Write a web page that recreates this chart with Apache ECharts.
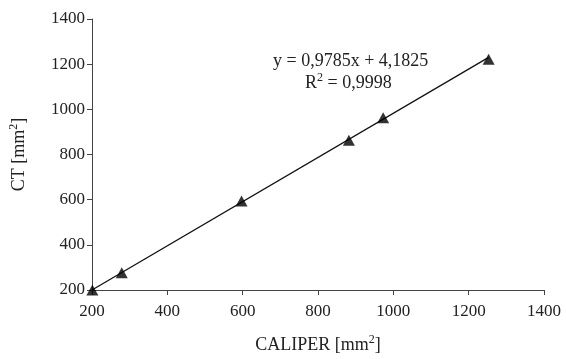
<!DOCTYPE html>
<html>
<head>
<meta charset="utf-8">
<script src="https://cdn.jsdelivr.net/npm/echarts@6/dist/echarts.min.js"></script>
<style>
  html, body { margin: 0; padding: 0; background: #fff; }
  #main { width: 566px; height: 359px; }
</style>
</head>
<body>
<div id="main"></div>
<script>
// measured points (CALIPER vs CT, mm2)
var caliper = [201, 279, 597, 882, 973, 1253];
var ct = [200, 276, 594, 863, 963, 1222];
// trend line end points
var trendX = [200, 1253];
var trendY = [200, 1230];
var xTicks = [200, 400, 600, 800, 1000, 1200, 1400];
var yTicks = [200, 400, 600, 800, 1000, 1200, 1400];

var font = 'Liberation Serif';
var ink = '#222';

var pts = caliper.map(function (v, i) { return [v, ct[i]]; });
var trend = trendX.map(function (v, i) { return [v, trendY[i]]; });

var rich = {
  a: { fontFamily: font, fontSize: 18, color: ink },
  s: { fontFamily: font, fontSize: 12, color: ink, verticalAlign: 'top', padding: [0, 0, 10, 0] }
};

var chart = echarts.init(document.getElementById('main'));
chart.setOption({
  animation: false,
  backgroundColor: '#fff',
  grid: { left: 92, top: 19, right: 22, bottom: 68 },
  xAxis: {
    type: 'value',
    min: xTicks[0], max: xTicks[xTicks.length - 1], interval: 200,
    splitLine: { show: false },
    axisLine: { lineStyle: { color: '#444', width: 1 } },
    axisTick: { show: true, length: 5, lineStyle: { color: '#444' } },
    axisLabel: { color: ink, fontFamily: font, fontSize: 17, margin: 13,
      formatter: function (v) { return String(v); } },
    name: '{a|CALIPER [mm}{s|2}{a|]}',
    nameLocation: 'middle',
    nameGap: 44,
    nameTextStyle: { rich: rich }
  },
  yAxis: {
    type: 'value',
    min: yTicks[0], max: yTicks[yTicks.length - 1], interval: 200,
    splitLine: { show: false },
    axisLine: { show: true, lineStyle: { color: '#444', width: 1 } },
    axisTick: { show: true, length: 5, lineStyle: { color: '#444' } },
    axisLabel: { color: ink, fontFamily: font, fontSize: 17, margin: 7,
      formatter: function (v) { return String(v); } },
    name: '{a|CT [mm}{s|2}{a|]}',
    nameLocation: 'middle',
    nameGap: 62,
    nameRotate: 90,
    nameTextStyle: { rich: rich }
  },
  series: [
    {
      type: 'line',
      data: trend,
      symbol: 'none',
      lineStyle: { color: '#111', width: 1.3 },
      z: 2
    },
    {
      type: 'scatter',
      data: pts,
      symbol: 'triangle',
      symbolSize: [12, 11],
      itemStyle: { color: '#000' },
      z: 3
    }
  ],
  graphic: [
    {
      type: 'text',
      left: 273, top: 52,
      style: {
        text: 'y = 0,9785x + 4,1825',
        font: '18px "Liberation Serif"',
        fill: ink
      }
    },
    {
      type: 'text',
      left: 305, top: 72,
      style: {
        text: '{a|R}{s|2}{a| = 0,9998}',
        rich: {
          a: { fontFamily: font, fontSize: 18, fill: ink },
          s: { fontFamily: font, fontSize: 12, fill: ink, verticalAlign: 'top', padding: [0, 0, 10, 0] }
        }
      }
    }
  ]
});
</script>
</body>
</html>
